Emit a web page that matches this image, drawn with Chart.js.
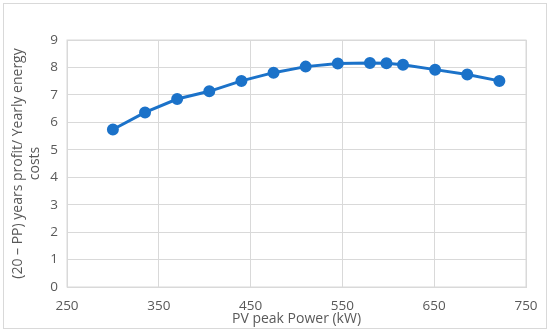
<!DOCTYPE html>
<html>
<head>
<meta charset="utf-8">
<script src="https://cdn.jsdelivr.net/npm/chart.js@4"></script>
<style>
  body { margin: 0; background: #fff; }
  #wrap { position: relative; width: 550px; height: 333px; }
  #frame { position: absolute; left: 3px; top: 3px; width: 542px; height: 324px; border: 1px solid #d9d9d9; pointer-events: none; }
</style>
</head>
<body>
<div id="wrap">
  <canvas id="chart" width="550" height="333"></canvas>
  <div id="frame"></div>
</div>
<script>
// PV peak power (kW) and the profit ratio
const pvPower = [300, 335, 370, 405, 440, 475, 510, 545, 580, 598, 616, 651, 686, 721];
const profitRatio = [5.74, 6.36, 6.85, 7.13, 7.51, 7.81, 8.03, 8.14, 8.16, 8.15, 8.10, 7.92, 7.74, 7.51];

const xTicks = { min: 250, max: 750, step: 100 };
const yTicks = { min: 0, max: 9, step: 1 };

const blue = '#1b72c9';
const grey = '#595959';
const gridCol = '#d9d9d9';

const points = pvPower.map((x, i) => ({ x: x, y: profitRatio[i] }));

const ctx = document.getElementById('chart').getContext('2d');
new Chart(ctx, {
  type: 'line',
  data: {
    datasets: [{
      data: points,
      borderColor: blue,
      backgroundColor: blue,
      borderWidth: 3,
      pointRadius: 4.5,
      pointBackgroundColor: blue,
      pointBorderColor: blue,
      tension: 0,
      fill: false
    }]
  },
  options: {
    responsive: false,
    animation: false,
    layout: { padding: { top: 40, right: 24, left: 0, bottom: 0 } },
    plugins: { legend: { display: false }, tooltip: { enabled: false } },
    scales: {
      x: {
        type: 'linear',
        min: xTicks.min, max: xTicks.max,
        ticks: { stepSize: xTicks.step, color: grey, font: { family: 'Open Sans', size: 13.5 }, padding: 11 },
        grid: { color: gridCol, drawTicks: false },
        border: { color: gridCol },
        title: { display: true, text: 'PV peak Power (kW)', color: grey, font: { family: 'Open Sans', size: 14 }, padding: { top: 0, bottom: 6 } },
        afterFit: s => { s.height = 46; }
      },
      y: {
        min: yTicks.min, max: yTicks.max,
        ticks: { stepSize: yTicks.step, color: grey, font: { family: 'Open Sans', size: 13.5 }, padding: 9 },
        grid: { color: gridCol, drawTicks: false },
        border: { color: gridCol },
        title: { display: true, text: ['(20 – PP) years profit/ Yearly energy', 'costs'], color: grey, font: { family: 'Open Sans', size: 14, lineHeight: 1.25 }, padding: { top: 9, bottom: 0 } },
        afterFit: s => { s.width = 67; }
      }
    }
  },
  plugins: [{
    id: 'plotBorder',
    afterDraw(c) {
      const a = c.chartArea, g = c.ctx;
      g.save();
      g.strokeStyle = gridCol;
      g.lineWidth = 1;
      g.strokeRect(a.left, a.top, a.right - a.left, a.bottom - a.top);
      g.restore();
    }
  }]
});
</script>
</body>
</html>
